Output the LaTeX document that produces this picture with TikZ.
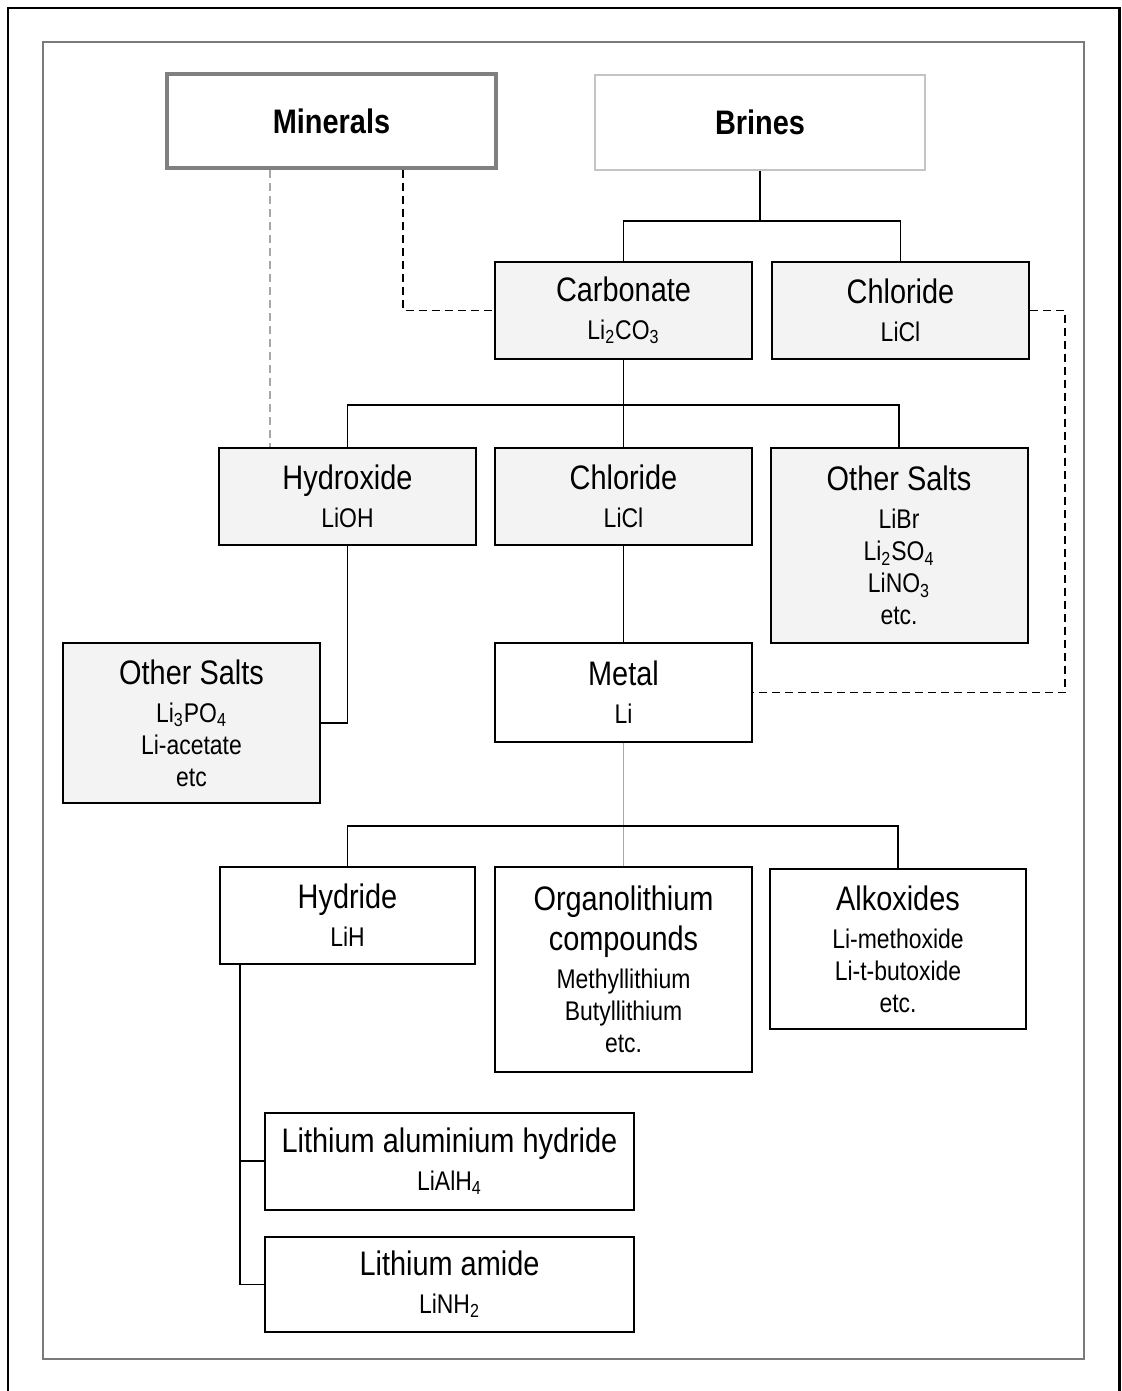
\documentclass[tikz,border=0pt]{standalone}
\usepackage{fontspec}
\setmainfont{Liberation Sans}[FakeStretch=0.85]
\usetikzlibrary{positioning}
\newcommand{\ttl}{\fontsize{17}{20}\selectfont}
\newcommand{\sub}{\fontsize{13.5}{16}\selectfont}
\definecolor{boxgray}{HTML}{F3F3F3}
\definecolor{framegray}{HTML}{7A7A7A}
\definecolor{mineralgray}{HTML}{808080}
\definecolor{brinegray}{HTML}{C4C4C4}
\definecolor{lightline}{HTML}{A8A8A8}

\begin{document}
\begin{tikzpicture}[
  x=0.5pt, y=-0.5pt,
  box/.style={draw,line width=1pt,minimum width=128.5pt,minimum height=48.5pt,align=center,inner sep=2pt,font=\sub},
  salt/.style={box,fill=boxgray},
  link/.style={line width=0.9pt},
  dline/.style={line width=0.9pt,dash pattern=on 4pt off 2.5pt}
]
\useasboundingbox (0,0) rectangle (1121,1391);
\draw[line width=1.3pt] (8,1391) -- (8,8) -- (1119.5,8) -- (1119.5,1391);
\draw[framegray,line width=0.9pt] (43,42) rectangle (1084,1359);

\node[box,line width=2pt,draw=mineralgray,minimum width=164.5pt,minimum height=47pt] (minerals) at (331.5,121) {\ttl\bfseries Minerals};
\node[box,draw=brinegray,minimum width=165pt,minimum height=47.5pt] (brines) at (760,122.5) {\ttl\bfseries Brines};
\node[salt] (carb) at (623.5,310.5) {\ttl Carbonate\\[3pt]Li\textsubscript{2}CO\textsubscript{3}};
\node[salt,right=9pt of carb] (chlA) {\ttl Chloride\\[3pt]LiCl};
\node[salt] (chlB) at (623.5,496) {\ttl Chloride\\[3pt]LiCl};
\node[salt,left=8.5pt of chlB] (hydrox) {\ttl Hydroxide\\[3pt]LiOH};
\node[salt,minimum height=97.5pt,anchor=north] (othA) at (899,447) {\ttl Other Salts\\[3pt]LiBr\\Li\textsubscript{2}SO\textsubscript{4}\\LiNO\textsubscript{3}\\etc.};
\node[salt,minimum height=80pt] (othB) at (191.5,723) {\ttl Other Salts\\[3pt]Li\textsubscript{3}PO\textsubscript{4}\\Li-acetate\\etc};
\node[box,minimum height=49.5pt] (metal) at (623.5,692.5) {\ttl Metal\\[3pt]Li};
\node[box,anchor=north,minimum width=127.5pt] (hydride) at (347.5,866) {\ttl Hydride\\[3pt]LiH};
\node[box,anchor=north,minimum height=102.5pt] (organo) at (623.5,866) {\ttl Organolithium\\[4pt]\ttl compounds\\[3pt]Methyllithium\\Butyllithium\\etc.};
\node[box,anchor=north,minimum width=128pt,minimum height=80pt] (alkox) at (898,868) {\ttl Alkoxides\\[3pt]Li-methoxide\\Li-t-butoxide\\etc.};
\node[box,minimum width=184.5pt] (lah) at (449.5,1161) {\ttl Lithium aluminium hydride\\[3pt]LiAlH\textsubscript{4}};
\node[box,minimum width=184.5pt,minimum height=47.5pt] (amide) at (449.5,1284.5) {\ttl Lithium amide\\[3pt]LiNH\textsubscript{2}};

\draw[link] (brines.south) -- ++(0,50) coordinate (bj);
\draw[link] (carb.north) |- (bj) -| (chlA.north);
\draw[link] (carb.south) -- (chlB.north);
\path (carb.south) ++(0,45) coordinate (cj);
\draw[link] (hydrox.north) |- (cj) -| (othA.north);
\draw[link] (hydrox.south) |- (othB.east);
\draw[link] (chlB.south) -- (metal.north);
\draw[link,lightline] (metal.south) -- (organo.north);
\path (metal.south) ++(0,83) coordinate (mj);
\draw[link] (hydride.north) |- (mj) -| (alkox.north);
\draw[link] ([xshift=-53.75pt]hydride.south) coordinate (hd) |- (amide.west);
\draw[link,line width=1.3pt] (hd |- lah.west) -- (lah.west);
\draw[dline] ([xshift=35.75pt]minerals.south) |- (carb.west);
\draw[dline,lightline] ([xshift=-30.75pt]minerals.south) -- ([xshift=-30.75pt]minerals.south |- hydrox.north);
\draw[dline] (chlA.east) -- ++(35,0) |- (metal.east);
\end{tikzpicture}
\end{document}
